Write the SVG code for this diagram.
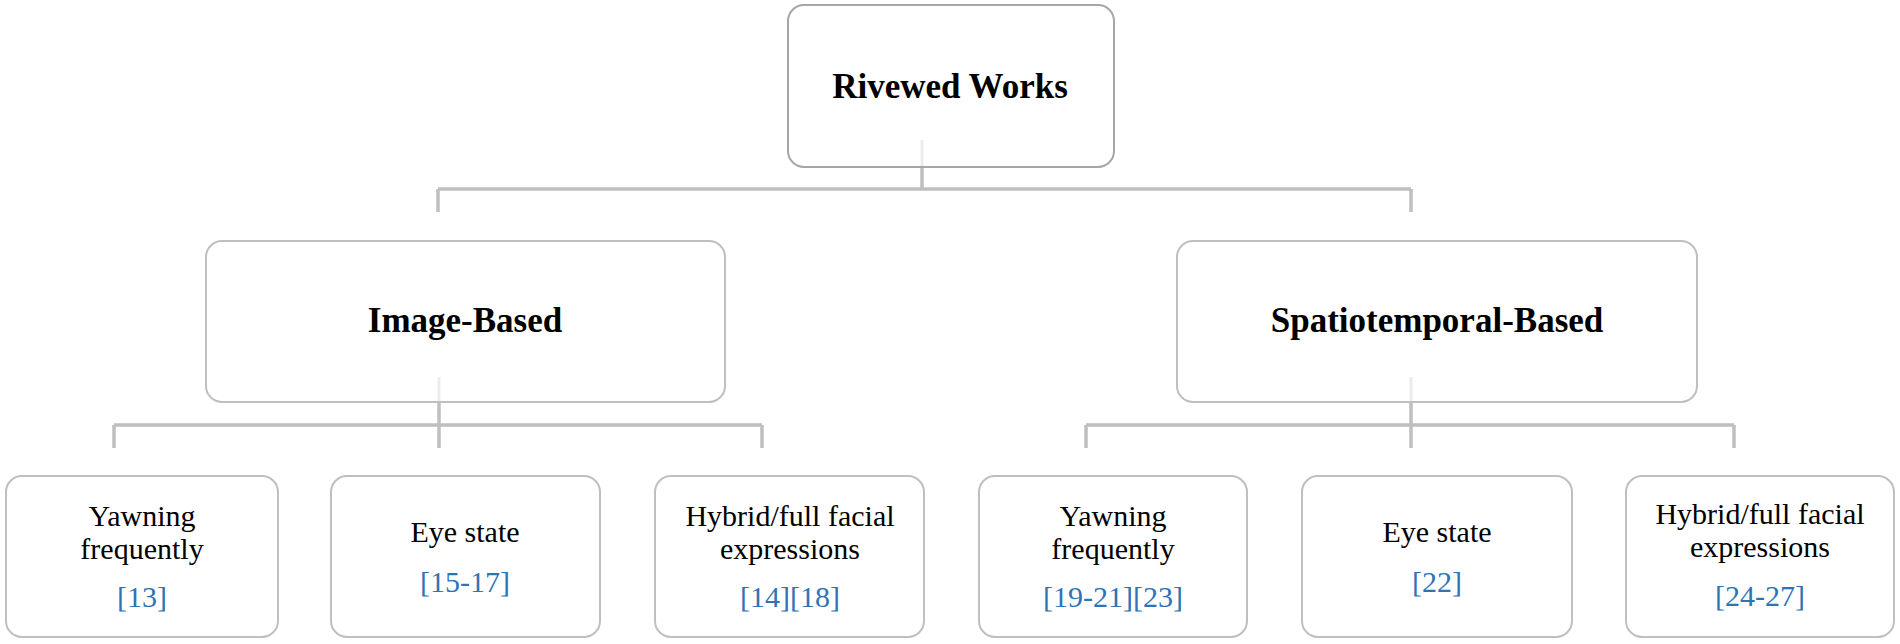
<svg xmlns="http://www.w3.org/2000/svg" width="1900" height="644" viewBox="0 0 1900 644">
<style>
.box{fill:#fff;stroke:#a6a6a6;stroke-width:2}
.box2{fill:#fff;stroke:#bfbfbf;stroke-width:2}
.conn{fill:none;stroke:#bfbfbf;stroke-width:3.5}
.faint{fill:none;stroke:#ececec;stroke-width:3}
.h{font-family:"Liberation Serif","Times New Roman",serif;font-weight:bold;font-size:35px;fill:#000;text-anchor:middle}
.t{font-family:"Liberation Serif","Times New Roman",serif;font-size:30px;fill:#000;text-anchor:middle}
.r{font-family:"Liberation Serif","Times New Roman",serif;font-size:30px;fill:#2e74b5;text-anchor:middle}
</style>
<rect width="1900" height="644" fill="#fff"/>
<g id="connectors">
<path class="conn" d="M922 167V189M438 189H1411M438 189V212M1411 189V212"/>
<path class="conn" d="M439 402V425M114 425H762M114 425V448M439 425V448M762 425V448"/>
<path class="conn" d="M1411 402V425M1086 425H1734M1086 425V448M1411 425V448M1734 425V448"/>
</g>
<g id="root">
<rect class="box" x="788" y="5" width="326" height="162" rx="16"/>
<path class="faint" d="M922 140V166"/>
<text class="h" x="950" y="98">Rivewed Works</text>
</g>
<g id="image-based">
<rect class="box2" x="206" y="241" width="519" height="161" rx="16"/>
<path class="faint" d="M439 377V401"/>
<text class="h" x="465" y="332">Image-Based</text>
</g>
<g id="spatiotemporal-based">
<rect class="box2" x="1177" y="241" width="520" height="161" rx="16"/>
<path class="faint" d="M1411 377V401"/>
<text class="h" x="1437" y="332">Spatiotemporal-Based</text>
</g>
<g id="ib-yawning">
<rect class="box2" x="6" y="476" width="272" height="161" rx="16"/>
<text class="t" x="142" y="526">Yawning</text>
<text class="t" x="142" y="559">frequently</text>
<text class="r" x="142" y="607">[13]</text>
</g>
<g id="ib-eye">
<rect class="box2" x="331" y="476" width="269" height="161" rx="16"/>
<text class="t" x="465" y="542">Eye state</text>
<text class="r" x="465" y="592">[15-17]</text>
</g>
<g id="ib-hybrid">
<rect class="box2" x="655" y="476" width="269" height="161" rx="16"/>
<text class="t" x="790" y="526">Hybrid/full facial</text>
<text class="t" x="790" y="559">expressions</text>
<text class="r" x="790" y="607">[14][18]</text>
</g>
<g id="st-yawning">
<rect class="box2" x="979" y="476" width="268" height="161" rx="16"/>
<text class="t" x="1113" y="526">Yawning</text>
<text class="t" x="1113" y="559">frequently</text>
<text class="r" x="1113" y="607">[19-21][23]</text>
</g>
<g id="st-eye">
<rect class="box2" x="1302" y="476" width="270" height="161" rx="16"/>
<text class="t" x="1437" y="542">Eye state</text>
<text class="r" x="1437" y="592">[22]</text>
</g>
<g id="st-hybrid">
<rect class="box2" x="1626" y="476" width="268" height="161" rx="16"/>
<text class="t" x="1760" y="524">Hybrid/full facial</text>
<text class="t" x="1760" y="557">expressions</text>
<text class="r" x="1760" y="606">[24-27]</text>
</g>
</svg>
